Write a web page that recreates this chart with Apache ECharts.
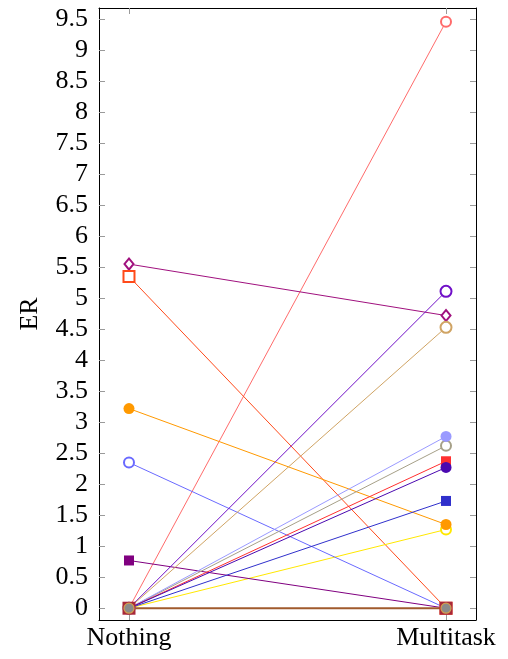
<!DOCTYPE html>
<html>
<head>
<meta charset="utf-8">
<script src="https://cdn.jsdelivr.net/npm/echarts@6/dist/echarts.min.js"></script>
<style>
  html, body { margin: 0; padding: 0; background: #fff; }
  #chart { width: 508px; height: 659px; }
</style>
</head>
<body>
<div id="chart"></div>
<script>
// Conditions on the x axis
const categories = ['Nothing', 'Multitask'];

// ER per participant: [Nothing, Multitask]
const pinkCircle     = [0, 9.46];
const purpleDiamond  = [5.55, 4.72];
const orangeSquare   = [5.35, 0];
const yellowCircle   = [0, 1.27];
const orangeDot      = [3.22, 1.35];
const blueCircle     = [2.35, 0];
const purpleSquare   = [0.77, 0];
const violetCircle   = [0, 5.11];
const tanCircle      = [0, 4.53];
const oliveCircle    = [0, 2.62];
const lavenderDot    = [0, 2.77];
const redSquare      = [0, 2.37];
const indigoDot      = [0, 2.27];
const navySquare     = [0, 1.73];
const brownFlat      = [0, 0];
const graySquare     = [0, 0];

const yTicks = [0,0.5,1,1.5,2,2.5,3,3.5,4,4.5,5,5.5,6,6.5,7,7.5,8,8.5,9,9.5];

const font = "'Liberation Serif', 'DejaVu Serif', serif";

function mk(values, color, symbol, size, extra) {
  return Object.assign({
    type: 'line',
    data: values.map((v, i) => [i, v]),
    symbol: symbol,
    symbolSize: size,
    showSymbol: true,
    lineStyle: { color: color, width: 1 },
    itemStyle: { color: color, borderColor: color, borderWidth: symbol.startsWith('empty') ? 1.2 : 0 },
    emphasis: { disabled: true },
    animation: false,
    silent: true
  }, extra || {});
}

const series = [
  mk(pinkCircle,    '#ff6b6b', 'emptyCircle', 10),
  mk(purpleDiamond, '#a0107e', 'emptyDiamond', [9, 11]),
  mk(orangeSquare,  '#ff4a1a', 'emptyRect', 11),
  mk(yellowCircle,  '#ffe800', 'emptyCircle', 10),
  mk(orangeDot,     '#ff9900', 'circle', 11),
  mk(blueCircle,    '#6a6aff', 'emptyCircle', 10),
  mk(purpleSquare,  '#800080', 'rect', 10),
  mk(violetCircle,  '#7010c8', 'emptyCircle', 11),
  mk(tanCircle,     '#d0a464', 'emptyCircle', 11),
  mk(oliveCircle,   '#a6a088', 'emptyCircle', 10),
  mk(lavenderDot,   '#9a9aff', 'circle', 11),
  mk(redSquare,     '#ff3030', 'rect', 10),
  mk(indigoDot,     '#4a08b0', 'circle', 11),
  mk(navySquare,    '#3030cc', 'rect', 10),
  mk(brownFlat,     '#a05a2c', 'rect', 13, {
    lineStyle: { color: '#a05a2c', width: 2 },
    itemStyle: { color: '#a8283a', borderColor: '#a8283a', borderWidth: 0 }
  }),
  mk(graySquare,    '#8a8a8a', 'circle', 10, {
    lineStyle: { width: 0, opacity: 0 },
    itemStyle: { color: '#8a8a8a', borderColor: '#d0a050', borderWidth: 1.2 }
  })
];

const tickStyle = { show: true, inside: true, length: 6, lineStyle: { color: '#9a9a9a', width: 1 } };

const chart = echarts.init(document.getElementById('chart'), null, { renderer: 'canvas' });
chart.setOption({
  animation: false,
  backgroundColor: '#fff',
  grid: { left: 99, right: 32, top: 8, bottom: 39, containLabel: false },
  xAxis: [
    {
      type: 'value', position: 'bottom', min: -0.0946, max: 1.0946,
      axisLine: { show: true, onZero: false, lineStyle: { color: '#000', width: 1 } },
      axisTick: Object.assign({ customValues: [0, 1] }, tickStyle),
      axisLabel: {
        customValues: [0, 1], margin: 5,
        formatter: v => categories[Math.round(v)],
        color: '#000', fontFamily: font, fontSize: 26
      },
      splitLine: { show: false }
    },
    {
      type: 'value', position: 'top', min: -0.0946, max: 1.0946,
      axisLine: { show: true, onZero: false, lineStyle: { color: '#000', width: 1 } },
      axisTick: Object.assign({ customValues: [0, 1] }, tickStyle),
      axisLabel: { show: false },
      splitLine: { show: false }
    }
  ],
  yAxis: [
    {
      type: 'value', position: 'left', min: -0.19, max: 9.68,
      name: 'ER', nameLocation: 'middle', nameGap: 56, nameRotate: 90,
      nameTextStyle: { color: '#000', fontFamily: font, fontSize: 26 },
      axisLine: { show: true, onZero: false, lineStyle: { color: '#000', width: 1 } },
      axisTick: Object.assign({ customValues: yTicks }, tickStyle),
      axisLabel: {
        customValues: yTicks, margin: 11,
        color: '#000', fontFamily: font, fontSize: 26
      },
      splitLine: { show: false }
    },
    {
      type: 'value', position: 'right', min: -0.19, max: 9.68,
      axisLine: { show: true, onZero: false, lineStyle: { color: '#000', width: 1 } },
      axisTick: Object.assign({ customValues: yTicks }, tickStyle),
      axisLabel: { show: false },
      splitLine: { show: false }
    }
  ],
  series: series
});
</script>
</body>
</html>
